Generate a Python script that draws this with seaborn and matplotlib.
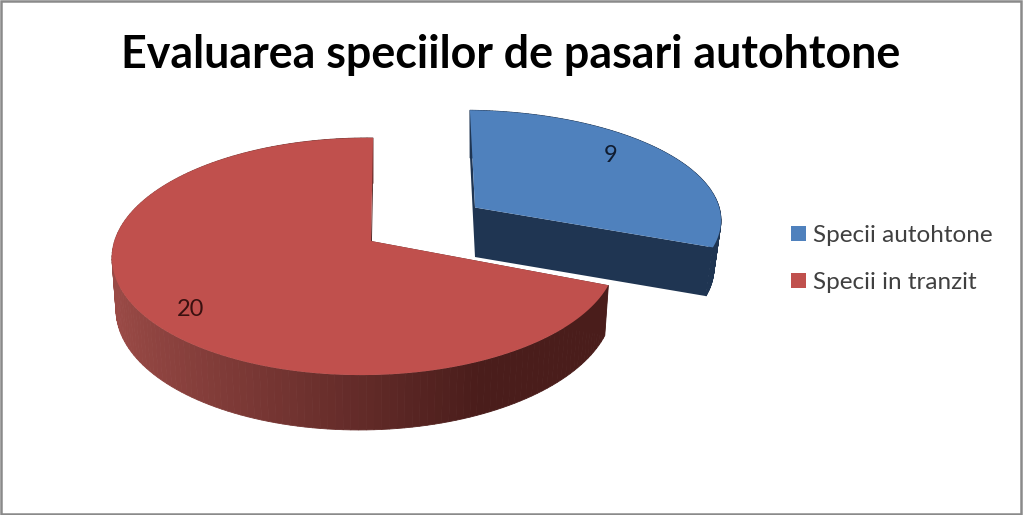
import numpy as np
import matplotlib
matplotlib.use("Agg")
import matplotlib.pyplot as plt
from matplotlib.patches import Polygon, Patch, Rectangle
from matplotlib.colors import to_rgb
import seaborn as sns

# --- data ---
categories = ["Specii autohtone", "Specii in tranzit"]
values = [9, 20]
title = "Evaluarea speciilor de pasari autohtone"
top_colors = ["#4F81BD", "#C0504D"]
wall_stops = [["#1F3552", "#1F3552"], ["#9A4A46", "#4A1D1B"]]

sns.set_theme(style="white")
plt.rcParams["font.family"] = ["Lato", "DejaVu Sans"]
palette = sns.color_palette(top_colors)

fig, ax = plt.subplots(figsize=(10.24, 5.15), dpi=100)
ax.set_position([0, 0, 1, 1])
ax.set_xlim(0, 1024)
ax.set_ylim(515, 0)
ax.axis("off")

# perspective view of each slice: apex x, apex y, radius x, radius y,
# depth perspective, side perspective, shear, thickness, thickness perspective
views = [
    dict(cx=475, cy=207.5, R=252, A=107, K=0.10, G=0.032, B=5.6, D=51, M=0.03),
    dict(cx=371, cy=241, R=250, A=116.5, K=0.1308, G=0.025, B=-2.3, D=50.5, M=0.015),
]


def project(view, c, s, z):
    c, s, z = np.asarray(c, float), np.asarray(s, float), np.asarray(z, float)
    w = 1 - view["K"] * s + view["G"] * c + view["M"] * z
    return np.column_stack([view["cx"] + (view["R"] * c + view["B"] * s) / w,
                            view["cy"] + (view["A"] * s + view["D"] * z) / w])


total = sum(values)
start = 0.0
for i, v in enumerate(values):
    view = views[i]
    sweep = v / total * 2 * np.pi
    th = np.linspace(start, start + sweep, 160)
    cs, ss = np.sin(th), -np.cos(th)
    col_a, col_b = [np.array(to_rgb(x)) for x in wall_stops[i]]

    # straight cut walls
    for (c1, s1) in [(cs[0], ss[0]), (cs[-1], ss[-1])]:
        wall = np.vstack([project(view, [0, c1], [0, s1], [0, 0]),
                          project(view, [c1, 0], [s1, 0], [1, 1])])
        ax.add_patch(Polygon(wall, closed=True, fc=col_b if i else col_a, ec="none", zorder=2))

    # outer rim, shaded from left to right
    for j in range(len(th) - 1):
        quad = np.vstack([project(view, cs[j:j + 2], ss[j:j + 2], [0, 0]),
                          project(view, cs[j:j + 2][::-1], ss[j:j + 2][::-1], [1, 1])])
        t = np.clip((cs[j] + 0.95) / 1.35, 0, 1)
        shade = col_a * (1 - t) + col_b * t
        ax.add_patch(Polygon(quad, closed=True, fc=shade, ec=shade, lw=0.6, zorder=3))

    # top face
    top = np.vstack([project(view, [0], [0], [0]), project(view, cs, ss, np.zeros_like(cs))])
    ax.add_patch(Polygon(top, closed=True, fc=palette[i], ec="none", zorder=4))
    start += sweep

ax.text(611, 155, str(values[0]), fontsize=17, color="#101C30", ha="center", va="center", zorder=5)
ax.text(191, 309, str(values[1]), fontsize=17, color="#3A1110", ha="center", va="center", zorder=5)

ax.set_title(title, fontsize=32.2, fontweight="bold", color="black", x=0.4985, y=0.868, pad=0)

handles = [Patch(fc=palette[i], ec="none", label=categories[i]) for i in range(2)]
leg = ax.legend(handles=handles, loc="center left", bbox_to_anchor=(791 / 1024, 1 - 259 / 515),
                frameon=False, fontsize=17.5, handlelength=0.6, handleheight=0.6,
                handletextpad=0.3, labelspacing=1.06, borderpad=0, borderaxespad=0)
for txt in leg.get_texts():
    txt.set_color("#404040")

ax.add_patch(Rectangle((0.8, 0.8), 1020, 512.7, fc="none", ec="#8A8A8A", lw=1.8, zorder=6))

fig.savefig("out.png", dpi=100)
